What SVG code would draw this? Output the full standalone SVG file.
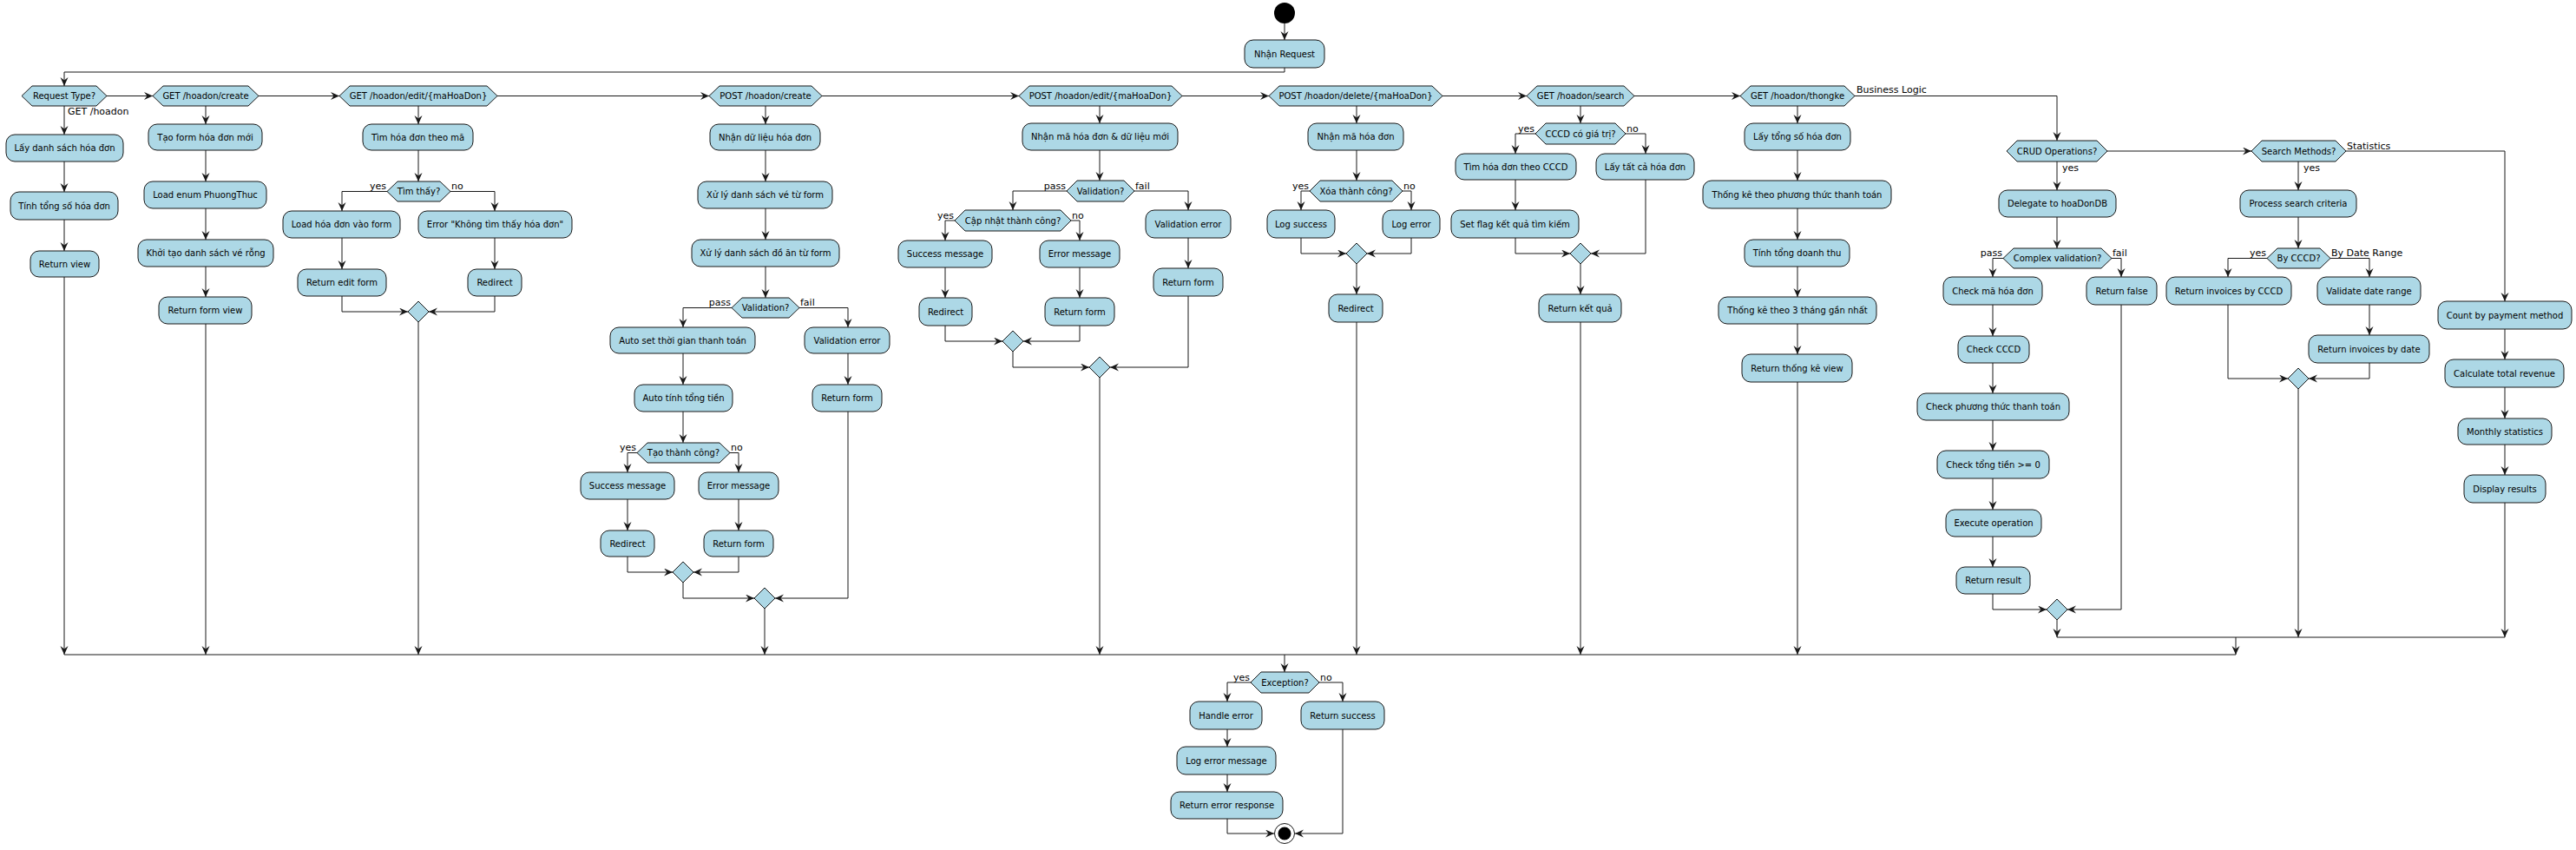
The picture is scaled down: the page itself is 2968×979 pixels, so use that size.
<svg xmlns="http://www.w3.org/2000/svg" width="2968" height="979" viewBox="0 0 2968 979">
<style>
.b{fill:#ADD8E6;stroke:#181818;stroke-width:1}
.t{font-family:"DejaVu Sans","Liberation Sans",sans-serif;font-size:10px;fill:#000;text-anchor:middle}
.l{font-family:"DejaVu Sans","Liberation Sans",sans-serif;font-size:11px;fill:#000}
.e{text-anchor:end}
.c path{fill:none;stroke:#181818;stroke-width:1;marker-end:url(#a)}
.c path.n{marker-end:none}
</style>
<defs>
<marker id="a" markerUnits="userSpaceOnUse" markerWidth="11" markerHeight="10" refX="10" refY="4.5" orient="auto">
<path d="M0,0 L10,4.5 L0,9 L3.5,4.5 Z" fill="#181818"/>
</marker>
</defs>
<rect width="2968" height="979" fill="#fff"/>

<g id="connectors" class="c">
<path d="M1480,27 V46"/>
<path d="M1480,78 V83 H74 V99"/>
<path d="M123,110.5 H176"/>
<path d="M298,110.5 H391"/>
<path d="M573,110.5 H817"/>
<path d="M947,110.5 H1174"/>
<path d="M1362,110.5 H1462"/>
<path d="M1662,110.5 H1759"/>
<path d="M1883,110.5 H2005"/>
<path d="M2137,110.5 H2370 V162"/>
<!-- col1 -->
<path d="M74,122 V155"/>
<path d="M74,186 V221"/>
<path d="M74,253 V289"/>
<path d="M74,319 V754"/>
<!-- col2 -->
<path d="M237,122 V143"/>
<path d="M237,173 V209"/>
<path d="M237,240 V276"/>
<path d="M237,307 V342"/>
<path d="M237,373 V754"/>
<!-- col3 -->
<path d="M482,122 V143"/>
<path d="M482,173 V209"/>
<path d="M446,220.5 H394 V243"/>
<path d="M519,220.5 H570 V243"/>
<path d="M394,274 V310"/>
<path d="M570,274 V310"/>
<path d="M394,341 V359 H470"/>
<path d="M570,341 V359 H494"/>
<path d="M482,371 V754"/>
<!-- col4 -->
<path d="M882,122 V143"/>
<path d="M882,173 V209"/>
<path d="M882,240 V276"/>
<path d="M882,307 V343"/>
<path d="M843,354.5 H787 V377"/>
<path d="M921,354.5 H977 V377"/>
<path d="M787,407 V443"/>
<path d="M977,407 V443"/>
<path d="M787,474 V510"/>
<path d="M734,521.5 H723 V544"/>
<path d="M841,521.5 H851 V544"/>
<path d="M723,575 V611"/>
<path d="M851,575 V611"/>
<path d="M723,641 V659 H775"/>
<path d="M851,641 V659 H799"/>
<path d="M787,671 V689 H869"/>
<path d="M977,474 V689 H893"/>
<path d="M881,701 V754"/>
<!-- col5 -->
<path d="M1267,122 V142"/>
<path d="M1267,173 V208"/>
<path d="M1229,220 H1167 V242"/>
<path d="M1307,220 H1369 V242"/>
<path d="M1100,254 H1089 V277"/>
<path d="M1234,254 H1244 V277"/>
<path d="M1369,274 V309"/>
<path d="M1089,308 V343"/>
<path d="M1244,308 V343"/>
<path d="M1089,375 V393 H1155"/>
<path d="M1244,375 V393 H1179"/>
<path d="M1167,405 V423 H1255"/>
<path d="M1369,341 V423 H1279"/>
<path d="M1267,435 V754"/>
<!-- col6 -->
<path d="M1563,122 V142"/>
<path d="M1563,173 V208"/>
<path d="M1509,220 H1499 V242"/>
<path d="M1616,220 H1626 V242"/>
<path d="M1499,274 V292 H1551"/>
<path d="M1626,274 V292 H1575"/>
<path d="M1563,304 V339"/>
<path d="M1563,371 V754"/>
<!-- col7 -->
<path d="M1821,122 V142"/>
<path d="M1769,154 H1746 V177"/>
<path d="M1873,154 H1896 V177"/>
<path d="M1746,207 V242"/>
<path d="M1746,274 V292 H1809"/>
<path d="M1896,207 V292 H1833"/>
<path d="M1821,304 V339"/>
<path d="M1821,371 V754"/>
<!-- col8 -->
<path d="M2071,122 V142"/>
<path d="M2071,173 V208"/>
<path d="M2071,240 V276"/>
<path d="M2071,307 V342"/>
<path d="M2071,373 V408"/>
<path d="M2071,440 V754"/>
<!-- business logic -->
<path d="M2370,186 V219"/>
<path d="M2428,174 H2594"/>
<path d="M2370,250 V286"/>
<path d="M2308,297.5 H2296 V319"/>
<path d="M2433,297.5 H2444 V319"/>
<path d="M2296,351 V387"/>
<path d="M2296,418 V453"/>
<path d="M2296,484 V519"/>
<path d="M2296,551 V587"/>
<path d="M2296,618 V653"/>
<path d="M2296,684 V702 H2358"/>
<path d="M2444,351 V702 H2382"/>
<path d="M2370,714 V734"/>
<path d="M2648,186 V219"/>
<path d="M2648,250 V286"/>
<path d="M2612,297.5 H2567 V319"/>
<path d="M2685,297.5 H2730 V319"/>
<path d="M2730,351 V386"/>
<path d="M2567,351 V436 H2636"/>
<path d="M2730,418 V436 H2660"/>
<path d="M2648,448 V734"/>
<path d="M2703,174 H2886 V347"/>
<path d="M2886,379 V414"/>
<path d="M2886,446 V482"/>
<path d="M2886,512 V547"/>
<path d="M2886,579 V734"/>
<path class="n" d="M2370,734 H2886"/>
<path d="M2576,734 V754"/>
<path class="n" d="M74,754 H2576"/>
<!-- exception -->
<path d="M1480,754 V774"/>
<path d="M1441,786 H1414 V808"/>
<path d="M1520,786 H1547 V808"/>
<path d="M1414,840 V860"/>
<path d="M1414,892 V912"/>
<path d="M1414,943 V960 H1468"/>
<path d="M1547,840 V960 H1492"/>
</g>

<g id="labels">
<text class="l" x="78" y="132">GET /hoadon</text>
<text class="l e" x="445" y="218">yes</text>
<text class="l" x="520" y="218">no</text>
<text class="l e" x="842" y="352">pass</text>
<text class="l" x="922" y="352">fail</text>
<text class="l e" x="733" y="519">yes</text>
<text class="l" x="842" y="519">no</text>
<text class="l e" x="1228" y="218">pass</text>
<text class="l" x="1308" y="218">fail</text>
<text class="l e" x="1099" y="252">yes</text>
<text class="l" x="1235" y="252">no</text>
<text class="l e" x="1508" y="218">yes</text>
<text class="l" x="1617" y="218">no</text>
<text class="l e" x="1768" y="152">yes</text>
<text class="l" x="1874" y="152">no</text>
<text class="l" x="2139" y="107">Business Logic</text>
<text class="l" x="2376" y="197">yes</text>
<text class="l e" x="2307" y="295">pass</text>
<text class="l" x="2434" y="295">fail</text>
<text class="l" x="2654" y="197">yes</text>
<text class="l" x="2704" y="172">Statistics</text>
<text class="l e" x="2611" y="295">yes</text>
<text class="l" x="2686" y="295">By Date Range</text>
<text class="l e" x="1440" y="784">yes</text>
<text class="l" x="1521" y="784">no</text>
</g>

<g id="start"><circle cx="1480" cy="15" r="12" fill="#000"/></g>
<g id="nhanRequest"><rect class="b" x="1434" y="46" width="92" height="32" rx="10"/><text class="t" x="1480" y="65.5">Nhận Request</text></g>

<!-- top row hexes -->
<g id="requestType"><polygon class="b" points="25,110.5 37,99 111,99 123,110.5 111,122 37,122"/><text class="t" x="74" y="114">Request Type?</text></g>
<g id="getCreate"><polygon class="b" points="176,110.5 188,99 286,99 298,110.5 286,122 188,122"/><text class="t" x="237" y="114">GET /hoadon/create</text></g>
<g id="getEdit"><polygon class="b" points="391,110.5 403,99 561,99 573,110.5 561,122 403,122"/><text class="t" x="482" y="114">GET /hoadon/edit/{maHoaDon}</text></g>
<g id="postCreate"><polygon class="b" points="817,110.5 829,99 935,99 947,110.5 935,122 829,122"/><text class="t" x="882" y="114">POST /hoadon/create</text></g>
<g id="postEdit"><polygon class="b" points="1174,110.5 1186,99 1350,99 1362,110.5 1350,122 1186,122"/><text class="t" x="1268" y="114">POST /hoadon/edit/{maHoaDon}</text></g>
<g id="postDelete"><polygon class="b" points="1462,110.5 1474,99 1650,99 1662,110.5 1650,122 1474,122"/><text class="t" x="1562" y="114">POST /hoadon/delete/{maHoaDon}</text></g>
<g id="getSearch"><polygon class="b" points="1759,110.5 1771,99 1871,99 1883,110.5 1871,122 1771,122"/><text class="t" x="1821" y="114">GET /hoadon/search</text></g>
<g id="getThongke"><polygon class="b" points="2005,110.5 2017,99 2125,99 2137,110.5 2125,122 2017,122"/><text class="t" x="2071" y="114">GET /hoadon/thongke</text></g>

<!-- col1 -->
<g id="layDanhSach"><rect class="b" x="7" y="155" width="135" height="31" rx="10"/><text class="t" x="74.5" y="174">Lấy danh sách hóa đơn</text></g>
<g id="tinhTongSo"><rect class="b" x="12" y="221" width="124" height="32" rx="10"/><text class="t" x="74" y="240.5">Tính tổng số hóa đơn</text></g>
<g id="returnView"><rect class="b" x="35" y="289" width="79" height="30" rx="10"/><text class="t" x="74.5" y="307.5">Return view</text></g>

<!-- col2 -->
<g id="taoForm"><rect class="b" x="171" y="143" width="131" height="30" rx="10"/><text class="t" x="236.5" y="161.5">Tạo form hóa đơn mới</text></g>
<g id="loadEnum"><rect class="b" x="166" y="209" width="141" height="31" rx="10"/><text class="t" x="236.5" y="228">Load enum PhuongThuc</text></g>
<g id="khoiTao"><rect class="b" x="159" y="276" width="156" height="31" rx="10"/><text class="t" x="237" y="295">Khởi tạo danh sách vé rỗng</text></g>
<g id="returnFormView"><rect class="b" x="183" y="342" width="107" height="31" rx="10"/><text class="t" x="236.5" y="361">Return form view</text></g>

<!-- col3 -->
<g id="timHoaDon"><rect class="b" x="418" y="143" width="127" height="30" rx="10"/><text class="t" x="481.5" y="161.5">Tìm hóa đơn theo mã</text></g>
<g id="timThay"><polygon class="b" points="446,220.5 458,209 507,209 519,220.5 507,232 458,232"/><text class="t" x="482.5" y="224">Tìm thấy?</text></g>
<g id="loadHoaDon"><rect class="b" x="326" y="243" width="135" height="31" rx="10"/><text class="t" x="393.5" y="262">Load hóa đơn vào form</text></g>
<g id="errorKhongTim"><rect class="b" x="482" y="243" width="177" height="31" rx="10"/><text class="t" x="570.5" y="262">Error "Không tìm thấy hóa đơn"</text></g>
<g id="returnEditForm"><rect class="b" x="343" y="310" width="102" height="31" rx="10"/><text class="t" x="394" y="329">Return edit form</text></g>
<g id="redirect1"><rect class="b" x="539" y="310" width="62" height="31" rx="10"/><text class="t" x="570" y="329">Redirect</text></g>
<g id="merge1"><polygon class="b" points="482,347 494,359 482,371 470,359"/></g>

<!-- col4 -->
<g id="nhanDuLieu"><rect class="b" x="818" y="143" width="127" height="30" rx="10"/><text class="t" x="881.5" y="161.5">Nhận dữ liệu hóa đơn</text></g>
<g id="xuLyVe"><rect class="b" x="804" y="209" width="155" height="31" rx="10"/><text class="t" x="881.5" y="228">Xử lý danh sách vé từ form</text></g>
<g id="xuLyDoAn"><rect class="b" x="797" y="276" width="170" height="31" rx="10"/><text class="t" x="882" y="295">Xử lý danh sách đồ ăn từ form</text></g>
<g id="validation1"><polygon class="b" points="843,354.5 855,343 909,343 921,354.5 909,366 855,366"/><text class="t" x="882" y="358">Validation?</text></g>
<g id="autoSet"><rect class="b" x="703" y="377" width="167" height="30" rx="10"/><text class="t" x="786.5" y="395.5">Auto set thời gian thanh toán</text></g>
<g id="validationError1"><rect class="b" x="927" y="377" width="98" height="30" rx="10"/><text class="t" x="976" y="395.5">Validation error</text></g>
<g id="autoTinh"><rect class="b" x="731" y="443" width="113" height="31" rx="10"/><text class="t" x="787.5" y="462">Auto tính tổng tiền</text></g>
<g id="returnForm1"><rect class="b" x="936" y="443" width="80" height="31" rx="10"/><text class="t" x="976" y="462">Return form</text></g>
<g id="taoThanhCong"><polygon class="b" points="734,521.5 746,510 829,510 841,521.5 829,533 746,533"/><text class="t" x="787.5" y="525">Tạo thành công?</text></g>
<g id="successMsg1"><rect class="b" x="669" y="544" width="108" height="31" rx="10"/><text class="t" x="723" y="563">Success message</text></g>
<g id="errorMsg1"><rect class="b" x="805" y="544" width="92" height="31" rx="10"/><text class="t" x="851" y="563">Error message</text></g>
<g id="redirect2"><rect class="b" x="692" y="611" width="62" height="30" rx="10"/><text class="t" x="723" y="629.5">Redirect</text></g>
<g id="returnForm2"><rect class="b" x="811" y="611" width="80" height="30" rx="10"/><text class="t" x="851" y="629.5">Return form</text></g>
<g id="merge2"><polygon class="b" points="787,647 799,659 787,671 775,659"/></g>
<g id="merge3"><polygon class="b" points="881,677 893,689 881,701 869,689"/></g>

<!-- col5 -->
<g id="nhanMaDuLieu"><rect class="b" x="1178" y="142" width="179" height="31" rx="10"/><text class="t" x="1267.5" y="161">Nhận mã hóa đơn &amp; dữ liệu mới</text></g>
<g id="validation2"><polygon class="b" points="1229,220 1241,208 1295,208 1307,220 1295,232 1241,232"/><text class="t" x="1268" y="223.5">Validation?</text></g>
<g id="capNhat"><polygon class="b" points="1100,254 1112,242 1222,242 1234,254 1222,266 1112,266"/><text class="t" x="1167" y="257.5">Cập nhật thành công?</text></g>
<g id="validationError2"><rect class="b" x="1320" y="242" width="98" height="32" rx="10"/><text class="t" x="1369" y="261.5">Validation error</text></g>
<g id="successMsg2"><rect class="b" x="1035" y="277" width="108" height="31" rx="10"/><text class="t" x="1089" y="296">Success message</text></g>
<g id="errorMsg2"><rect class="b" x="1198" y="277" width="92" height="31" rx="10"/><text class="t" x="1244" y="296">Error message</text></g>
<g id="returnForm3"><rect class="b" x="1329" y="309" width="80" height="32" rx="10"/><text class="t" x="1369" y="328.5">Return form</text></g>
<g id="redirect3"><rect class="b" x="1059" y="343" width="61" height="32" rx="10"/><text class="t" x="1089.5" y="362.5">Redirect</text></g>
<g id="returnForm4"><rect class="b" x="1204" y="343" width="80" height="32" rx="10"/><text class="t" x="1244" y="362.5">Return form</text></g>
<g id="merge4"><polygon class="b" points="1167,381 1179,393 1167,405 1155,393"/></g>
<g id="merge5"><polygon class="b" points="1267,411 1279,423 1267,435 1255,423"/></g>

<!-- col6 -->
<g id="nhanMa"><rect class="b" x="1507" y="142" width="110" height="31" rx="10"/><text class="t" x="1562" y="161">Nhận mã hóa đơn</text></g>
<g id="xoaThanhCong"><polygon class="b" points="1509,220 1521,208 1604,208 1616,220 1604,232 1521,232"/><text class="t" x="1562.5" y="223.5">Xóa thành công?</text></g>
<g id="logSuccess"><rect class="b" x="1460" y="242" width="78" height="32" rx="10"/><text class="t" x="1499" y="261.5">Log success</text></g>
<g id="logError"><rect class="b" x="1593" y="242" width="66" height="32" rx="10"/><text class="t" x="1626" y="261.5">Log error</text></g>
<g id="merge6"><polygon class="b" points="1563,280 1575,292 1563,304 1551,292"/></g>
<g id="redirect4"><rect class="b" x="1531" y="339" width="62" height="32" rx="10"/><text class="t" x="1562" y="358.5">Redirect</text></g>

<!-- col7 -->
<g id="cccdCoGiaTri"><polygon class="b" points="1769,154 1781,142 1861,142 1873,154 1861,166 1781,166"/><text class="t" x="1821" y="157.5">CCCD có giá trị?</text></g>
<g id="timTheoCCCD"><rect class="b" x="1677" y="177" width="139" height="30" rx="10"/><text class="t" x="1746.5" y="195.5">Tìm hóa đơn theo CCCD</text></g>
<g id="layTatCa"><rect class="b" x="1839" y="177" width="113" height="30" rx="10"/><text class="t" x="1895.5" y="195.5">Lấy tất cả hóa đơn</text></g>
<g id="setFlag"><rect class="b" x="1672" y="242" width="147" height="32" rx="10"/><text class="t" x="1745.5" y="261.5">Set flag kết quả tìm kiếm</text></g>
<g id="merge7"><polygon class="b" points="1821,280 1833,292 1821,304 1809,292"/></g>
<g id="returnKetQua"><rect class="b" x="1773" y="339" width="95" height="32" rx="10"/><text class="t" x="1820.5" y="358.5">Return kết quả</text></g>

<!-- col8 -->
<g id="layTongSo"><rect class="b" x="2010" y="142" width="122" height="31" rx="10"/><text class="t" x="2071" y="161">Lấy tổng số hóa đơn</text></g>
<g id="thongKePT"><rect class="b" x="1962" y="208" width="217" height="32" rx="10"/><text class="t" x="2070.5" y="227.5">Thống kê theo phương thức thanh toán</text></g>
<g id="tinhDoanhThu"><rect class="b" x="2010" y="276" width="121" height="31" rx="10"/><text class="t" x="2070.5" y="295">Tính tổng doanh thu</text></g>
<g id="thongKe3Thang"><rect class="b" x="1980" y="342" width="182" height="31" rx="10"/><text class="t" x="2071" y="361">Thống kê theo 3 tháng gần nhất</text></g>
<g id="returnThongKe"><rect class="b" x="2007" y="408" width="127" height="32" rx="10"/><text class="t" x="2070.5" y="427.5">Return thống kê view</text></g>

<!-- business logic -->
<g id="crudOps"><polygon class="b" points="2312,174 2324,162 2416,162 2428,174 2416,186 2324,186"/><text class="t" x="2370" y="177.5">CRUD Operations?</text></g>
<g id="delegate"><rect class="b" x="2303" y="219" width="135" height="31" rx="10"/><text class="t" x="2370.5" y="238">Delegate to hoaDonDB</text></g>
<g id="complexValidation"><polygon class="b" points="2308,297.5 2320,286 2421,286 2433,297.5 2421,309 2320,309"/><text class="t" x="2370.5" y="301">Complex validation?</text></g>
<g id="checkMa"><rect class="b" x="2239" y="319" width="114" height="32" rx="10"/><text class="t" x="2296" y="338.5">Check mã hóa đơn</text></g>
<g id="returnFalse"><rect class="b" x="2404" y="319" width="81" height="32" rx="10"/><text class="t" x="2444.5" y="338.5">Return false</text></g>
<g id="checkCCCD"><rect class="b" x="2256" y="387" width="82" height="31" rx="10"/><text class="t" x="2297" y="406">Check CCCD</text></g>
<g id="checkPT"><rect class="b" x="2209" y="453" width="175" height="31" rx="10"/><text class="t" x="2296.5" y="472">Check phương thức thanh toán</text></g>
<g id="checkTongTien"><rect class="b" x="2232" y="519" width="129" height="32" rx="10"/><text class="t" x="2296.5" y="538.5">Check tổng tiền &gt;= 0</text></g>
<g id="executeOp"><rect class="b" x="2242" y="587" width="110" height="31" rx="10"/><text class="t" x="2297" y="606">Execute operation</text></g>
<g id="returnResult"><rect class="b" x="2254" y="653" width="85" height="31" rx="10"/><text class="t" x="2296.5" y="672">Return result</text></g>
<g id="merge8"><polygon class="b" points="2370,690 2382,702 2370,714 2358,702"/></g>

<g id="searchMethods"><polygon class="b" points="2594,174 2606,162 2691,162 2703,174 2691,186 2606,186"/><text class="t" x="2648.5" y="177.5">Search Methods?</text></g>
<g id="processSearch"><rect class="b" x="2581" y="219" width="134" height="31" rx="10"/><text class="t" x="2648" y="238">Process search criteria</text></g>
<g id="byCCCD"><polygon class="b" points="2612,297.5 2624,286 2673,286 2685,297.5 2673,309 2624,309"/><text class="t" x="2648.5" y="301">By CCCD?</text></g>
<g id="returnByCCCD"><rect class="b" x="2496" y="319" width="144" height="32" rx="10"/><text class="t" x="2568" y="338.5">Return invoices by CCCD</text></g>
<g id="validateDate"><rect class="b" x="2670" y="319" width="119" height="32" rx="10"/><text class="t" x="2729.5" y="338.5">Validate date range</text></g>
<g id="returnByDate"><rect class="b" x="2660" y="386" width="139" height="32" rx="10"/><text class="t" x="2729.5" y="405.5">Return invoices by date</text></g>
<g id="merge9"><polygon class="b" points="2648,424 2660,436 2648,448 2636,436"/></g>

<g id="countByPayment"><rect class="b" x="2809" y="347" width="154" height="32" rx="10"/><text class="t" x="2886" y="366.5">Count by payment method</text></g>
<g id="calcRevenue"><rect class="b" x="2817" y="414" width="137" height="32" rx="10"/><text class="t" x="2885.5" y="433.5">Calculate total revenue</text></g>
<g id="monthlyStats"><rect class="b" x="2832" y="482" width="108" height="30" rx="10"/><text class="t" x="2886" y="500.5">Monthly statistics</text></g>
<g id="displayResults"><rect class="b" x="2839" y="547" width="94" height="32" rx="10"/><text class="t" x="2886" y="566.5">Display results</text></g>

<!-- exception -->
<g id="exception"><polygon class="b" points="1441,786 1453,774 1508,774 1520,786 1508,798 1453,798"/><text class="t" x="1480.5" y="789.5">Exception?</text></g>
<g id="handleError"><rect class="b" x="1371" y="808" width="83" height="32" rx="10"/><text class="t" x="1412.5" y="827.5">Handle error</text></g>
<g id="returnSuccess"><rect class="b" x="1499" y="808" width="96" height="32" rx="10"/><text class="t" x="1547" y="827.5">Return success</text></g>
<g id="logErrorMsg"><rect class="b" x="1356" y="860" width="114" height="32" rx="10"/><text class="t" x="1413" y="879.5">Log error message</text></g>
<g id="returnErrorResp"><rect class="b" x="1349" y="912" width="129" height="31" rx="10"/><text class="t" x="1413.5" y="931">Return error response</text></g>
<g id="end"><circle cx="1480" cy="960" r="11.5" fill="#fff" stroke="#181818" stroke-width="1"/><circle cx="1480" cy="960" r="7.5" fill="#000"/></g>
</svg>
